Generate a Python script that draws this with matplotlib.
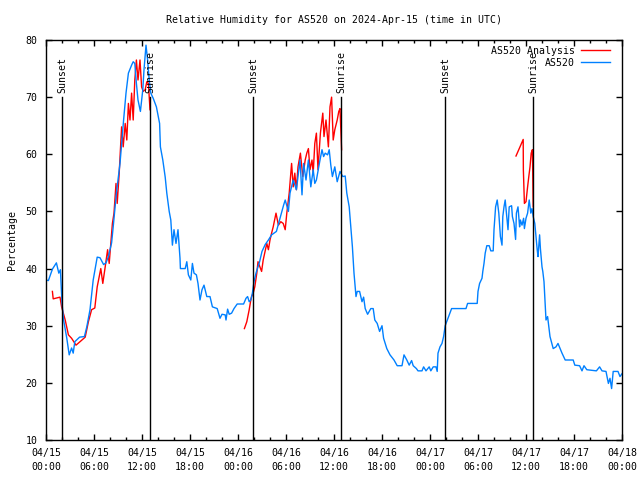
import numpy as np
import pandas as pd
import matplotlib
matplotlib.use("Agg")
import matplotlib.pyplot as plt
import matplotlib.dates as mdates

# hours since 2024-04-15 00:00 UTC
blue_t = [0.0, 0.3, 0.8, 1.3, 1.6, 1.8, 2.0, 2.2, 2.6, 2.9,
          3.2, 3.4, 3.6, 4.2, 4.8, 5.1, 5.5, 5.9, 6.4, 6.75,
          7.2, 7.5, 7.8, 8.2, 8.4, 8.8, 9.25, 9.7, 10.0, 10.3,
          10.7, 10.9, 11.1, 11.3, 11.5, 11.8, 12.1, 12.25, 12.5, 12.7,
          12.9, 13.1, 13.4, 13.8, 14.2, 14.3, 14.6, 14.9, 15.1, 15.4,
          15.6, 15.7, 15.8, 16.0, 16.25, 16.5, 16.75, 16.8, 17.4, 17.6,
          17.8, 18.1, 18.3, 18.5, 18.8, 19.0, 19.25, 19.5, 19.75, 20.1,
          20.5, 20.8, 21.4, 21.75, 22.0, 22.4, 22.5, 22.7, 22.9, 23.2,
          23.5, 23.9, 24.7, 25.0, 25.2, 25.4, 25.6, 25.8, 26.0, 26.25,
          26.5, 26.7, 27.0, 27.4, 27.8, 28.2, 28.8, 29.25, 29.7, 29.9,
          30.3, 30.5, 30.9, 31.3, 31.75, 32.0, 32.2, 32.5, 32.8, 33.1,
          33.4, 33.6, 33.8, 34.25, 34.5, 34.7, 34.9, 35.2, 35.4, 35.6,
          35.8, 36.1, 36.4, 36.75, 37.1, 37.4, 37.6, 37.9, 38.1, 38.3,
          38.5, 38.75, 38.9, 39.2, 39.5, 39.7, 39.9, 40.2, 40.6, 40.9,
          41.1, 41.4, 41.7, 42.0, 42.2, 42.6, 43.0, 43.5, 43.9, 44.5,
          44.75, 45.1, 45.4, 45.7, 45.9, 46.3, 46.5, 47.0, 47.2, 47.5,
          47.9, 48.1, 48.4, 48.75, 48.9, 49.0, 49.25, 49.5, 49.7, 49.9,
          50.3, 50.7, 52.5, 52.7, 53.9, 54.0, 54.2, 54.5, 54.6, 54.75,
          54.9, 55.1, 55.4, 55.6, 55.9, 56.0, 56.2, 56.4, 56.6, 56.8,
          57.0, 57.1, 57.25, 57.4, 57.6, 57.75, 57.9, 58.2, 58.3, 58.5,
          58.7, 58.8, 59.0, 59.2, 59.3, 59.5, 59.7, 59.8, 60.0, 60.2,
          60.4, 60.6, 60.75, 60.9, 61.1, 61.25, 61.4, 61.5, 61.7, 61.8,
          62.0, 62.1, 62.25, 62.4, 62.5, 62.7, 62.8, 63.0, 63.4, 63.75,
          64.0, 64.5, 64.9, 65.9, 66.1, 66.7, 67.0, 67.25, 67.6, 68.8,
          69.2, 69.5, 70.0, 70.3, 70.5, 70.7, 70.9, 71.5, 71.75, 72.0]
blue_rh = [38.0, 37.9, 39.9, 41.0, 39.2, 39.8, 34.0, 31.0, 27.8, 24.9,
           26.1, 25.2, 27.2, 28.0, 28.1, 29.8, 32.8, 38.0, 42.0, 41.9,
           40.7, 41.0, 42.1, 44.5, 47.3, 53.2, 58.4, 66.0, 70.7, 74.2,
           75.6, 76.2, 75.9, 72.4, 69.5, 67.5, 71.3, 74.8, 79.1, 76.5,
           73.0, 70.7, 69.8, 68.3, 65.4, 61.3, 59.0, 56.0, 53.2, 50.0,
           48.5, 46.2, 44.1, 46.8, 44.4, 46.8, 41.8, 40.0, 40.0, 41.2,
           38.9, 38.0, 40.9, 39.2, 38.9, 37.4, 34.5, 36.3, 37.1, 35.1,
           35.1, 33.3, 33.0, 31.3, 32.0, 31.9, 31.0, 32.9, 32.0, 32.2,
           33.0, 33.8, 33.8, 34.8, 35.1, 34.2, 34.5, 35.7, 37.7, 39.2,
           40.3, 41.2, 43.0, 44.2, 45.0, 45.9, 46.5, 48.8, 51.1, 52.0,
           50.0, 53.2, 55.5, 53.8, 59.0, 52.9, 58.4, 55.5, 59.0, 54.3,
           57.3, 54.9, 55.5, 59.0, 60.8, 59.6, 60.2, 59.9, 60.8, 58.1,
           56.1, 57.8, 55.2, 57.0, 56.1, 56.2, 53.2, 50.8, 47.3, 43.8,
           39.2, 35.1, 36.0, 36.0, 34.2, 35.0, 33.0, 32.0, 33.0, 33.0,
           31.0, 30.4, 29.0, 30.0, 27.8, 26.0, 24.9, 24.0, 23.0, 23.0,
           24.9, 24.0, 23.1, 23.9, 23.0, 22.5, 22.1, 22.1, 22.8, 22.1,
           22.8, 22.1, 22.8, 22.8, 22.0, 25.2, 26.3, 26.9, 28.1, 30.0,
           31.5, 33.0, 33.0, 33.9, 33.9, 36.0, 37.4, 38.3, 39.5, 40.9,
           42.7, 44.0, 44.0, 43.1, 43.1, 46.8, 50.8, 52.0, 49.7, 45.6,
           44.1, 49.1, 50.8, 52.0, 49.1, 46.8, 50.8, 51.0, 49.1, 47.9,
           45.1, 49.7, 50.8, 47.3, 48.5, 47.6, 48.8, 47.0, 48.8, 49.7,
           52.0, 49.7, 50.5, 49.1, 47.9, 45.6, 43.3, 42.1, 45.9, 43.5,
           40.3, 39.5, 37.7, 33.6, 31.0, 31.6, 30.4, 28.1, 26.0, 26.3,
           26.9, 25.2, 24.0, 24.0, 23.1, 23.0, 22.1, 23.0, 22.3, 22.1,
           22.8, 22.1, 22.0, 19.9, 20.8, 19.0, 22.0, 22.0, 21.1, 21.6]

# analysis series, three pieces (nan = gap)
red_t = [0.8, 0.9, 1.75, 1.95, 2.4, 2.8, 3.2, 3.75, 4.25, 4.9,
         5.3, 5.7, 6.1, 6.4, 6.85, 7.1, 7.4, 7.7, 7.9, 8.1,
         8.3, 8.5, 8.75, 8.9, 9.15, 9.45, 9.65, 9.9, 10.1, 10.3,
         10.5, 10.7, 10.9, 11.1, 11.3, 11.5, 11.75, 11.95, 12.15, 12.4,
         12.6, 12.8, 13.0, 13.01,
         24.8, 25.1, 25.4, 25.6, 25.7, 25.9, 26.1, 26.35, 26.5, 26.95,
         27.15, 27.6, 27.8, 28.0, 28.2, 28.4, 28.75, 29.05, 29.35, 29.65,
         29.9, 30.1, 30.4, 30.7, 30.9, 31.1, 31.3, 31.5, 31.8, 32.1,
         32.4, 32.6, 32.8, 33.0, 33.25, 33.4, 33.6, 33.8, 34.0, 34.3,
         34.6, 34.75, 35.0, 35.3, 35.5, 35.7, 35.9, 36.1, 36.4, 36.6,
         36.75, 36.95, 36.96,
         58.75, 59.25, 59.65, 59.67, 59.8, 60.0, 60.2, 60.35, 60.5, 60.65,
         60.8, 60.85, 60.9]
red_rh = [36.0, 34.7, 35.0, 33.3, 31.0, 28.4, 27.8, 26.6, 27.2, 28.0,
          30.7, 32.8, 33.1, 36.8, 40.0, 37.4, 40.3, 43.3, 40.9, 44.4,
          47.9, 49.7, 54.9, 51.4, 56.7, 64.8, 61.3, 65.4, 62.5, 68.9,
          66.0, 70.7, 66.0, 73.0, 76.5, 73.0, 76.5, 71.8, 71.0, 71.3,
          72.7, 72.4, 67.8, np.nan,
          29.5, 30.7, 32.8, 34.5, 35.1, 35.7, 36.8, 39.2, 41.2, 39.5,
          41.5, 44.4, 43.3, 45.0, 46.2, 47.3, 49.7, 47.6, 48.2, 47.9,
          46.8, 49.7, 53.2, 58.4, 54.3, 56.7, 53.8, 57.8, 60.2, 56.1,
          59.0, 60.2, 61.0, 57.3, 59.0, 56.7, 61.9, 63.7, 57.3, 63.7,
          67.2, 63.1, 66.0, 61.3, 68.3, 70.0, 62.5, 64.3, 66.0, 67.5,
          68.0, 60.8, np.nan,
          59.7, 61.3, 62.6, 57.3, 51.4, 51.7, 54.3, 56.1, 57.8, 60.2,
          60.8, 56.1, 50.8]

sun_t = [2.05, 13.05, 25.9, 36.9, 49.9, 60.9]
sun_lbl = ["Sunset", "Sunrise", "Sunset", "Sunrise", "Sunset", "Sunrise"]

start = pd.Timestamp("2024-04-15 00:00")
def tt(h):
    return start + pd.to_timedelta(np.asarray(h, dtype=float), unit="h")

fnt = "DejaVu Sans Mono"
fs = 7.1
plt.rcParams["font.family"] = fnt
plt.rcParams["font.size"] = fs

fig = plt.figure(figsize=(6.4, 4.8), dpi=100)
ax = fig.add_axes([46/640, 40/480, 576/640, 400/480])

ax.plot(tt(red_t), red_rh, color="#ff0000", lw=1.0, label="AS520 Analysis")
ax.plot(tt(blue_t), blue_rh, color="#0080ff", lw=1.0, label="AS520")

for h, lbl in zip(sun_t, sun_lbl):
    ax.plot([tt(h), tt(h)], [10, 70], color="black", lw=1.0)
    ax.text(tt(h), 70.8, lbl, rotation=90, ha="center", va="bottom", fontsize=fs)

ax.set_xlim(start, start + pd.Timedelta(hours=72))
ax.set_ylim(10, 80)
ax.xaxis.set_major_locator(mdates.HourLocator(byhour=[0, 6, 12, 18]))
ax.xaxis.set_minor_locator(mdates.HourLocator(interval=2))
ax.xaxis.set_major_formatter(mdates.DateFormatter("%m/%d\n%H:%M"))
ax.yaxis.set_minor_locator(plt.NullLocator())
ax.tick_params(which="both", direction="in", top=True, right=True, width=1.0)
ax.tick_params(which="major", length=4.5)
ax.tick_params(which="minor", length=2.5)
ax.tick_params(axis="y", pad=6)
ax.tick_params(axis="x", pad=5.5)
for lab in ax.get_xticklabels():
    lab.set_linespacing(1.55)
for sp in ax.spines.values():
    sp.set_linewidth(1.0)

ax.set_ylabel("Percentage", labelpad=6)
ax.set_title("Relative Humidity for AS520 on 2024-Apr-15 (time in UTC)", pad=12, fontsize=fs)

ax.legend(loc="upper right", bbox_to_anchor=(568/576, 1 - 2/400), frameon=False,
          markerfirst=False, handlelength=2.9, handletextpad=0.7, labelspacing=0.2,
          borderaxespad=0.0, fontsize=fs)

fig.savefig("out.png", dpi=100)
